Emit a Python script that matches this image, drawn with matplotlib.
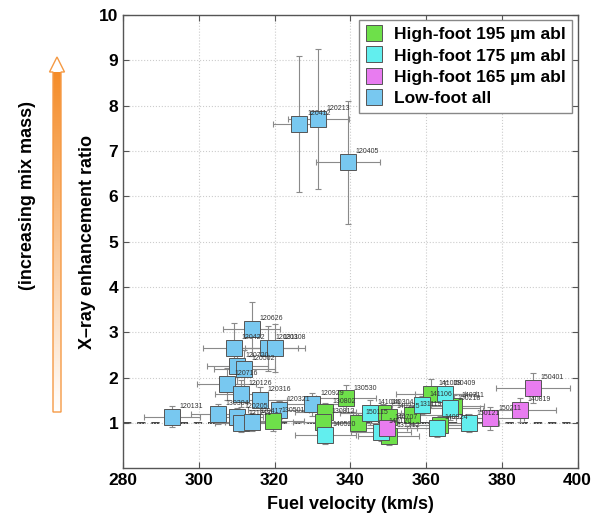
import matplotlib.pyplot as plt
import numpy as np
from matplotlib.patches import Polygon

plt.rcParams['font.family'] = ['Liberation Sans', 'DejaVu Sans']

# ---------------------------------------------------------------- data
# Low-foot all
lf_v = [326.6, 331.6, 339.4, 314.0, 309.2, 318.2, 320.1, 310.2, 312.0, 307.4,
        311.2, 316.2, 321.1, 330.0, 305.0, 292.9, 310.0, 311.2, 314.0]
lf_r = [7.60, 7.71, 6.75, 3.07, 2.66, 2.65, 2.65, 2.25, 2.20, 1.86,
        1.65, 1.50, 1.28, 1.41, 1.20, 1.14, 1.14, 0.99, 1.03]
lf_dv = [7, 8, 8.5, 7.5, 8, 8, 8, 8, 8, 7.8, 7, 7, 8, 8, 7, 7.3, 7, 7, 7]
lf_dr = [1.5, 1.55, 1.35, 0.6, 0.55, 0.5, 0.53, 0.4, 0.4, 0.36,
         0.3, 0.3, 0.2, 0.25, 0.22, 0.23, 0.2, 0.2, 0.2]
lf_id = ['120412', '120213', '120405', '120626', '120422', '120311', '120308',
         '120720', '120502', '120716', '120126', '120316', '120321', '120929',
         '130304', '120131', '120205', '121211', '120417']

# High-foot 195 um ablator
h195_v = [319.7, 333.4, 332.9, 338.9, 342.0, 348.7, 350.1, 350.1, 356.3, 361.2, 367.3, 363.8]
h195_r = [1.05, 1.25, 1.03, 1.54, 1.01, 1.22, 1.14, 0.71, 1.17, 1.64, 1.37, 0.95]
h195_dv = [8, 8, 8, 8, 8, 8, 8, 8, 8, 9, 8, 8]
h195_dr = [0.23, 0.2, 0.2, 0.29, 0.2, 0.2, 0.2, 0.2, 0.2, 0.32, 0.25, 0.2]
h195_id = ['130501', '130802', '130812', '130530', '150115', '140304', '140225',
           '131212', '131119', '141008', '140311', '']

# High-foot 175 um ablator
h175_v = [333.4, 345.3, 348.1, 359.0, 365.1, 366.3, 362.9, 371.3]
h175_r = [0.74, 1.23, 0.81, 1.39, 1.63, 1.32, 0.90, 0.99]
h175_dv = [8, 8, 8, 8, 8, 8, 8, 8]
h175_dr = [0.2, 0.27, 0.2, 0.2, 0.3, 0.25, 0.2, 0.2]
h175_id = ['140520', '141016', '140120', '141106', '150409', '150218', '140924', '150121']

# High-foot 165 um ablator
h165_v = [349.7, 377.0, 384.7, 388.3]
h165_r = [0.90, 1.10, 1.28, 1.78]
h165_dv = [8, 9, 9.7, 9.7]
h165_dr = [0.2, 0.25, 0.26, 0.33]
h165_id = ['140707', '150211', '140819', '150401']

groups = [
    ('Low-foot all', lf_v, lf_r, lf_dv, lf_dr, lf_id, '#78C8F0'),
    ('High-foot 195 \u00b5m abl', h195_v, h195_r, h195_dv, h195_dr, h195_id, '#6EE04A'),
    ('High-foot 175 \u00b5m abl', h175_v, h175_r, h175_dv, h175_dr, h175_id, '#62EEEE'),
    ('High-foot 165 \u00b5m abl', h165_v, h165_r, h165_dv, h165_dr, h165_id, '#E87CF0'),
]

# ---------------------------------------------------------------- plot
fig = plt.figure(figsize=(6.04, 5.15), dpi=100)
ax = fig.add_axes([123 / 604, (515 - 468.3) / 515, 454.5 / 604, 453.3 / 515])

handles = {}
for name, v, r, dv, dr, ids, col in groups:
    ax.errorbar(v, r, xerr=dv, yerr=dr, fmt='none', ecolor='#8a8a8a',
                elinewidth=0.8, capsize=2.5, capthick=0.8, zorder=2)
for name, v, r, dv, dr, ids, col in groups:
    h, = ax.plot(v, r, 's', ms=11.5, mfc=col, mec='#555555', mew=0.7,
                 linestyle='None', zorder=3, label=name)
    handles[name] = h
    for xv, yv, s in zip(v, r, ids):
        if s:
            ax.annotate(s, (xv, yv), xytext=(5.5, 7.5), textcoords='offset points',
                        fontsize=5, color='#333333', va='center', ha='left', zorder=4)

ax.axhline(1, color='#222222', linestyle=(0, (5, 3.5)), linewidth=1.2, zorder=1)

ax.set_xlim(280, 400)
ax.set_ylim(0, 10)
ax.set_xticks(np.arange(280, 401, 20))
ax.set_yticks(np.arange(1, 11, 1))
ax.grid(True, linestyle=':', color='#cccccc', linewidth=0.8)
ax.tick_params(direction='in', length=4, top=True, right=True, colors='#555555',
               labelcolor='black', labelsize=12.5)
for lab in ax.get_xticklabels() + ax.get_yticklabels():
    lab.set_fontweight('bold')
for sp in ax.spines.values():
    sp.set_color('#555555')
    sp.set_linewidth(1.0)

ax.set_xlabel('Fuel velocity (km/s)', fontsize=13, fontweight='bold', labelpad=6)
ax.set_ylabel('X\u2013ray enhancement ratio', fontsize=13, fontweight='bold')
ax.yaxis.set_label_coords(-0.06, 0.5)

order = ['High-foot 195 \u00b5m abl', 'High-foot 175 \u00b5m abl',
         'High-foot 165 \u00b5m abl', 'Low-foot all']
leg = ax.legend([handles[k] for k in order], order, loc='upper right',
                prop={'weight': 'bold', 'size': 12.5}, fancybox=False,
                edgecolor='#888888', framealpha=1, handlelength=1.0,
                handletextpad=0.6, borderpad=0.4, labelspacing=0.35,
                borderaxespad=0.3, markerscale=0.95)

fig.text(28 / 604, 1 - 195 / 515, '(increasing mix mass)', rotation=90,
         fontsize=13, fontweight='bold', ha='center', va='center')

# gradient arrow (figure pixel coords)
aax = fig.add_axes([0, 0, 1, 1], zorder=-1)
aax.set_xlim(0, 604)
aax.set_ylim(515, 0)
aax.axis('off')
x0, x1 = 53, 61
y_bot, y_neck, y_tip = 412, 72, 57
outline = [(x0, y_bot), (x1, y_bot), (x1, y_neck), (64.5, y_neck),
           (57, y_tip), (49.5, y_neck), (x0, y_neck)]
grad = np.linspace(0, 1, 256).reshape(-1, 1)
c_bot = np.array([245, 140, 40]) / 255
c_top = np.array([255, 255, 255]) / 255
img = c_top + (c_bot - c_top) * grad[:, :, None]
im = aax.imshow(img, extent=[x0, x1, y_bot, y_neck], origin='lower', aspect='auto')
shaft = Polygon([(x0, y_bot), (x1, y_bot), (x1, y_neck), (x0, y_neck)],
                closed=True, facecolor='none', edgecolor='none')
aax.add_patch(shaft)
im.set_clip_path(shaft)
aax.add_patch(Polygon(outline, closed=True, facecolor='none',
                      edgecolor='#F59A45', linewidth=1.0))
aax.set_xlim(0, 604)
aax.set_ylim(515, 0)

fig.savefig('out.png', dpi=100)
